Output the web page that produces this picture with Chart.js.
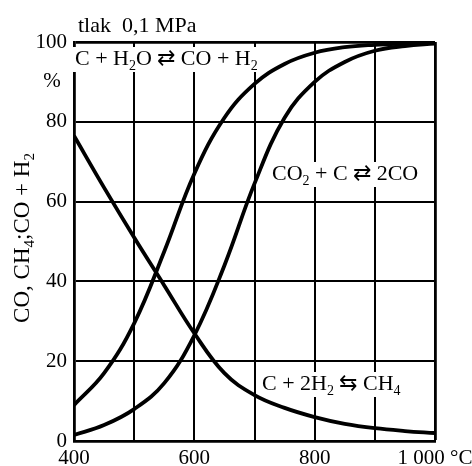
<!DOCTYPE html>
<html><head><meta charset="utf-8">
<script src="https://cdn.jsdelivr.net/npm/chart.js@4.4.1/dist/chart.umd.min.js"></script>
<style>html,body{margin:0;padding:0;background:#fff}#wrap{width:472px;height:466px}</style>
</head><body><div id="wrap"><canvas id="c" width="472" height="466"></canvas></div>
<script>
// ---- data ----
const temperatures = [400, 450, 500, 550, 600, 650, 700, 750, 800, 850, 900, 950, 1000];
const waterGas  = [9, 17, 29.5, 47.5, 67, 81, 89.5, 94.5, 97.3, 98.7, 99.3, 99.6, 99.8];  // C + H2O ⇄ CO + H2
const boudouard = [1.5, 4, 8, 14.5, 26.5, 44, 64.5, 81, 90, 95, 97.8, 99, 99.6];           // CO2 + C ⇄ 2CO
const methane   = [76.5, 63.5, 51, 39, 27, 17, 11.5, 8.3, 6, 4.3, 3.2, 2.5, 2];             // C + 2H2 ⇆ CH4
const xTickLabels = {400: '400', 600: '600', 800: '800', 1000: '1 000 °C'};
const yTickValues = [0, 20, 40, 60, 80, 100];

const SERIF = "'Liberation Serif', 'Times New Roman', serif";

function toPoints(ys) { return temperatures.map((t, i) => ({x: t, y: ys[i]})); }

function fontFor(size, sub, bold) {
  return (bold ? 'bold ' : '') + (sub ? Math.round(size * 0.65) : size) + 'px ' + SERIF;
}
function richWidth(ctx, parts, size, bold) {
  let w = 0;
  for (const [t, sub] of parts) { ctx.font = fontFor(size, sub, bold); w += ctx.measureText(t).width; }
  return w;
}
function drawRich(ctx, x, y, parts, size, bold) {
  let cx = x;
  ctx.textBaseline = 'alphabetic';
  ctx.textAlign = 'left';
  for (const [t, sub] of parts) {
    ctx.font = fontFor(size, sub, bold);
    ctx.fillText(t, cx, y + (sub ? size * 0.22 : 0));
    cx += ctx.measureText(t).width;
  }
  return cx - x;
}

const ANN = 22;
const annotations = [
  {x: 75,  y: 65,  parts: [['C + H', 0], ['2', 1], ['O ⇄ CO + H', 0], ['2', 1]]},
  {x: 272, y: 180, parts: [['CO', 0], ['2', 1], [' + C ⇄ 2CO', 0]]},
  {x: 262, y: 390, parts: [['C + 2H', 0], ['2', 1], [' ⇆ CH', 0], ['4', 1]]}
];

const textPlugin = {
  id: 'texts',
  beforeDatasetsDraw(chart) {
    const ctx = chart.ctx;
    ctx.save();
    for (const a of annotations) {
      const w = richWidth(ctx, a.parts, ANN);
      ctx.fillStyle = '#fff';
      ctx.fillRect(a.x - 2, a.y - 18, w + 4, 25);
      ctx.fillStyle = '#000';
      drawRich(ctx, a.x, a.y, a.parts, ANN);
    }
    ctx.restore();
  },
  afterDraw(chart) {
    const ctx = chart.ctx;
    ctx.save();
    ctx.fillStyle = '#000';
    drawRich(ctx, 78, 32, [['tlak  0,1 MPa', 0]], 22, false);
    ctx.font = '21px ' + SERIF;
    ctx.textAlign = 'center';
    ctx.textBaseline = 'middle';
    ctx.fillText('%', 52, 81);
    // rotated y-axis title
    const parts = [['CO, CH', 0], ['4', 1], [';CO + H', 0], ['2', 1]];
    const w = richWidth(ctx, parts, 23);
    ctx.translate(29, 238);
    ctx.rotate(-Math.PI / 2);
    drawRich(ctx, -w / 2, 0, parts, 23);
    ctx.restore();
  }
};

const lineStyle = {borderColor: '#000', borderWidth: 3.8, pointRadius: 0, fill: false, tension: 0.4};

new Chart(document.getElementById('c'), {
  type: 'line',
  data: {
    datasets: [
      Object.assign({label: 'C + H2O ⇄ CO + H2', data: toPoints(waterGas)}, lineStyle),
      Object.assign({label: 'CO2 + C ⇄ 2CO', data: toPoints(boudouard)}, lineStyle),
      Object.assign({label: 'C + 2H2 ⇆ CH4', data: toPoints(methane)}, lineStyle)
    ]
  },
  options: {
    responsive: false,
    devicePixelRatio: 1,
    animation: false,
    layout: {padding: {left: 0, right: 37, top: 42, bottom: 0}},
    plugins: {legend: {display: false}, tooltip: {enabled: false}},
    scales: {
      x: {
        type: 'linear', min: 400, max: 1000,
        grid: {color: '#000', lineWidth: c => (c.tick && c.tick.value === 1000 ? 2.8 : 2), drawTicks: false},
        border: {color: '#000', width: 2.8},
        ticks: {
          stepSize: 100, autoSkip: false, maxRotation: 0, padding: 5,
          color: '#000', font: {family: SERIF, size: 21},
          callback: v => xTickLabels[v] || ''
        },
        afterFit: s => { s.height = 25; s.paddingLeft = 0; s.paddingRight = 0; }
      },
      y: {
        min: 0, max: 100,
        grid: {color: '#000', lineWidth: c => (c.tick && c.tick.value === 100 ? 2.8 : 2), drawTicks: false},
        border: {color: '#000', width: 2.8},
        afterBuildTicks: s => { s.ticks = yTickValues.map(v => ({value: v})); },
        ticks: {
          autoSkip: false, padding: 7, color: '#000', font: {family: SERIF, size: 21}
        },
        afterFit: s => { s.width = 74; s.paddingTop = 0; s.paddingBottom = 0; }
      }
    }
  },
  plugins: [textPlugin]
});
</script>
</body></html>
